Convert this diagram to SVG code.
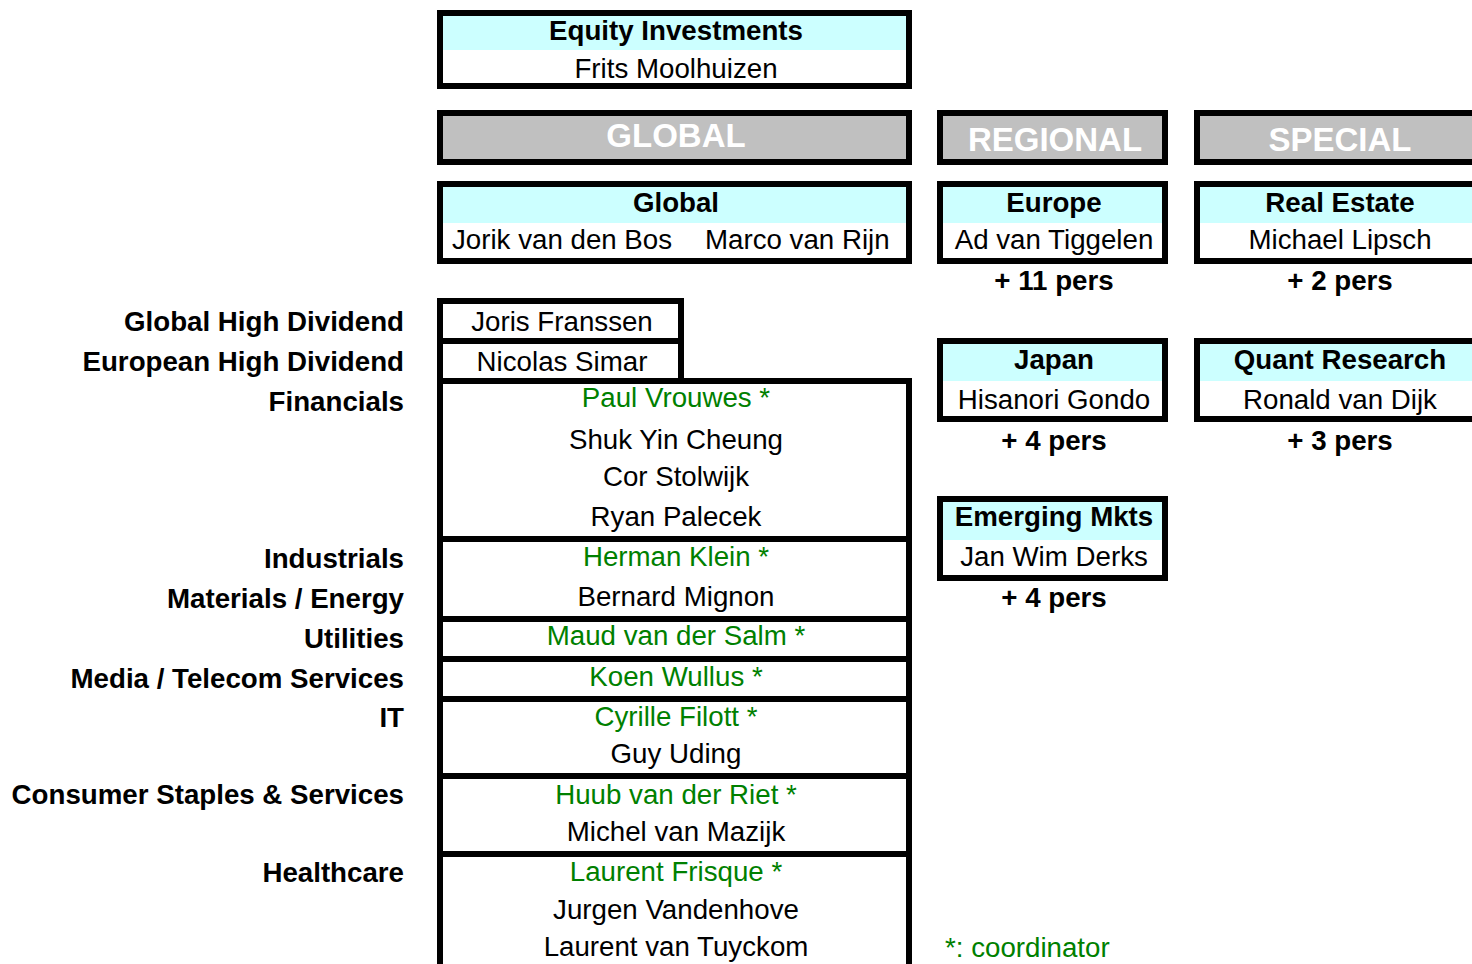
<svg xmlns="http://www.w3.org/2000/svg" width="1472" height="964" viewBox="0 0 1472 964">
<style>
.box{fill:none;stroke:#000;stroke-width:6}
.gray{fill:#C0C0C0;stroke:#000;stroke-width:6}
.hdr{fill:#CCFFFF}
text{font-family:"Liberation Sans",Arial,sans-serif;font-size:27.7px;fill:#000}
.b{font-weight:bold}
.c{text-anchor:middle}
.r{text-anchor:end}
.g{fill:#008000}
.cat{font-size:33px;font-weight:bold;fill:#fff;text-anchor:middle}
</style>
<rect width="1472" height="964" fill="#fff"/>
<g id="equity">
<rect class="hdr" x="443" y="16" width="463" height="34"/>
<rect class="box" x="440" y="13" width="469" height="73"/>
<text class="b c" x="676" y="40">Equity Investments</text>
<text class="c" x="676" y="78">Frits Moolhuizen</text>
</g>
<g id="cat-global">
<rect class="gray" x="440" y="113" width="469" height="49"/>
<text class="cat" x="676" y="147">GLOBAL</text>
</g>
<g id="cat-regional">
<rect class="gray" x="940" y="113" width="225" height="49"/>
<text class="cat" x="1055" y="151">REGIONAL</text>
</g>
<g id="cat-special">
<rect class="gray" x="1197" y="113" width="300" height="49"/>
<text class="cat" x="1340" y="151">SPECIAL</text>
</g>
<g id="global">
<rect class="hdr" x="443" y="187" width="463" height="36"/>
<rect class="box" x="440" y="184" width="469" height="77"/>
<text class="b c" x="676" y="212">Global</text>
<text x="452" y="249">Jorik van den Bos</text>
<text x="705" y="249">Marco van Rijn</text>
</g>
<g id="europe">
<rect class="hdr" x="943" y="187" width="219" height="36"/>
<rect class="box" x="940" y="184" width="225" height="77"/>
<text class="b c" x="1054" y="212">Europe</text>
<text class="c" x="1054" y="249">Ad van Tiggelen</text>
<text class="b c" x="1054" y="290">+ 11 pers</text>
</g>
<g id="realestate">
<rect class="hdr" x="1200" y="187" width="294" height="36"/>
<rect class="box" x="1197" y="184" width="300" height="77"/>
<text class="b c" x="1340" y="212">Real Estate</text>
<text class="c" x="1340" y="249">Michael Lipsch</text>
<text class="b c" x="1340" y="290">+ 2 pers</text>
</g>
<g id="japan">
<rect class="hdr" x="943" y="344" width="219" height="37"/>
<rect class="box" x="940" y="341" width="225" height="78"/>
<text class="b c" x="1054" y="369">Japan</text>
<text class="c" x="1054" y="409">Hisanori Gondo</text>
<text class="b c" x="1054" y="450">+ 4 pers</text>
</g>
<g id="quant">
<rect class="hdr" x="1200" y="344" width="294" height="37"/>
<rect class="box" x="1197" y="341" width="300" height="78"/>
<text class="b c" x="1340" y="369">Quant Research</text>
<text class="c" x="1340" y="409">Ronald van Dijk</text>
<text class="b c" x="1340" y="450">+ 3 pers</text>
</g>
<g id="emerging">
<rect class="hdr" x="943" y="502" width="219" height="38"/>
<rect class="box" x="940" y="499" width="225" height="79"/>
<text class="b c" x="1054" y="526">Emerging Mkts</text>
<text class="c" x="1054" y="566">Jan Wim Derks</text>
<text class="b c" x="1054" y="607">+ 4 pers</text>
</g>
<g id="labels">
<text class="b r" x="404" y="331">Global High Dividend</text>
<text class="b r" x="404" y="371">European High Dividend</text>
<text class="b r" x="404" y="411">Financials</text>
<text class="b r" x="404" y="568">Industrials</text>
<text class="b r" x="404" y="608">Materials / Energy</text>
<text class="b r" x="404" y="648">Utilities</text>
<text class="b r" x="404" y="688">Media / Telecom Services</text>
<text class="b r" x="404" y="727">IT</text>
<text class="b r" x="404" y="804">Consumer Staples &amp; Services</text>
<text class="b r" x="404" y="882">Healthcare</text>
</g>
<g id="ghd">
<rect class="box" x="440" y="301" width="241" height="40"/>
<text class="c" x="562" y="331">Joris Franssen</text>
</g>
<g id="ehd">
<rect class="box" x="440" y="341" width="241" height="40"/>
<text class="c" x="562" y="371">Nicolas Simar</text>
</g>
<g id="financials">
<rect class="box" x="440" y="381" width="469" height="158"/>
<text class="c g" x="676" y="407">Paul Vrouwes *</text>
<text class="c" x="676" y="449">Shuk Yin Cheung</text>
<text class="c" x="676" y="486">Cor Stolwijk</text>
<text class="c" x="676" y="526">Ryan Palecek</text>
</g>
<g id="industrials">
<rect class="box" x="440" y="539" width="469" height="80"/>
<text class="c g" x="676" y="566">Herman Klein *</text>
<text class="c" x="676" y="606">Bernard Mignon</text>
</g>
<g id="utilities">
<rect class="box" x="440" y="619" width="469" height="40"/>
<text class="c g" x="676" y="645">Maud van der Salm *</text>
</g>
<g id="media">
<rect class="box" x="440" y="659" width="469" height="40"/>
<text class="c g" x="676" y="686">Koen Wullus *</text>
</g>
<g id="it">
<rect class="box" x="440" y="699" width="469" height="77"/>
<text class="c g" x="676" y="726">Cyrille Filott *</text>
<text class="c" x="676" y="763">Guy Uding</text>
</g>
<g id="consumer">
<rect class="box" x="440" y="776" width="469" height="78"/>
<text class="c g" x="676" y="804">Huub van der Riet *</text>
<text class="c" x="676" y="841">Michel van Mazijk</text>
</g>
<g id="healthcare">
<rect class="box" x="440" y="854" width="469" height="130"/>
<text class="c g" x="676" y="881">Laurent Frisque *</text>
<text class="c" x="676" y="919">Jurgen Vandenhove</text>
<text class="c" x="676" y="956">Laurent van Tuyckom</text>
</g>
<g id="legend">
<text class="g" x="945" y="957">*: coordinator</text>
</g>
<g id="connectors"/>
</svg>
